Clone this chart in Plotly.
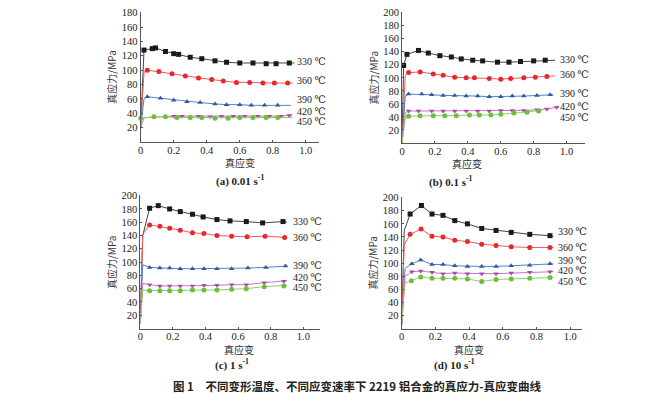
import plotly.graph_objects as go

# ---------------- data ----------------
temps = ["330 ℃", "360 ℃", "390 ℃", "420 ℃", "450 ℃"]
colors = ["#1a1a1a", "#e8262b", "#2a5caa", "#a94ca9", "#6cbf3a"]
line_colors = ["#444444", "#ee5a5a", "#5a7fc4", "#c478c4", "#8fcf6a"]
symbols = ["square", "circle", "triangle-up", "triangle-down", "circle"]

# (a) 0.01 s-1
a_start = [20, 20, 20, 20, 20]
a_knee = [[0.015, 125], [0.02, 97], [0.02, 60], [0.02, 34], [0.005, 33]]
a_x = [
    [0.02, 0.07, 0.09, 0.15, 0.20, 0.23, 0.30, 0.37, 0.45, 0.52, 0.60, 0.68, 0.76, 0.82, 0.90],
    [0.04, 0.11, 0.19, 0.27, 0.35, 0.43, 0.50, 0.58, 0.66, 0.74, 0.81, 0.89],
    [0.04, 0.12, 0.20, 0.28, 0.36, 0.45, 0.52, 0.60, 0.67, 0.75, 0.83],
    [0.20, 0.25, 0.35, 0.42, 0.49, 0.56, 0.63, 0.71, 0.78, 0.85, 0.90],
    [0.00, 0.08, 0.15, 0.22, 0.30, 0.37, 0.45, 0.53, 0.60, 0.68, 0.76, 0.83],
]
a_y = [
    [128, 130, 131, 126, 123, 122, 118, 116, 113, 111, 110, 110, 109, 109, 110],
    [100, 98, 95, 92, 89, 87, 85, 83, 83, 82, 82, 82],
    [63, 61, 58, 56, 55, 53, 52, 52, 51, 51, 51],
    [36, 36, 36, 35, 36, 36, 36, 36, 36, 36, 37],
    [33, 35, 35, 34, 34, 34, 33, 33, 34, 34, 34, 34],
]
a_end = [[0.93, 110], [0.92, 82], [0.91, 51], [0.92, 38], [0.92, 34]]
a_label_y = [112.5, 85, 59.5, 42.8, 28]

# (b) 0.1 s-1
b_start = [0, 0, 0, 0, 0]
b_knee = [[0.008, 110], [0.02, 104], [0.02, 72], [0.02, 46], [0.02, 39]]
b_x = [
    [0.01, 0.03, 0.10, 0.16, 0.23, 0.30, 0.36, 0.43, 0.49, 0.58, 0.65, 0.72, 0.80, 0.87],
    [0.04, 0.11, 0.19, 0.25, 0.32, 0.39, 0.44, 0.53, 0.60, 0.66, 0.74, 0.81, 0.88],
    [0.04, 0.12, 0.18, 0.25, 0.32, 0.39, 0.46, 0.53, 0.60, 0.67, 0.74, 0.82, 0.90],
    [0.04, 0.10, 0.18, 0.25, 0.32, 0.39, 0.46, 0.53, 0.60, 0.67, 0.74, 0.82, 0.88, 0.94],
    [0.04, 0.11, 0.19, 0.26, 0.33, 0.41, 0.47, 0.54, 0.60, 0.68, 0.76, 0.83],
]
b_y = [
    [119, 136, 142, 138, 134, 132, 129, 127, 126, 124, 124, 125, 126, 127],
    [108, 109, 106, 104, 101, 100, 100, 99, 98, 99, 100, 101, 102],
    [75, 75, 74, 73, 73, 72, 72, 71, 71, 72, 72, 73, 74],
    [49, 49, 49, 49, 49, 49, 49, 49, 50, 50, 50, 51, 52, 55],
    [41, 42, 42, 42, 42, 43, 43, 43, 44, 46, 47, 49],
]
b_end = [[0.93, 127], [0.93, 103], [0.92, 74], [0.95, 56], [0.85, 50]]
b_label_y = [128.5, 104.6, 76.3, 56.3, 39.3]

# (c) 1 s-1
c_start = [18, 18, 8, 8, 7]
c_knee = [[0.015, 140], [0.015, 142], [0.015, 96], [0.015, 68], [0.015, 58]]
c_x = [
    [0.057, 0.11, 0.18, 0.245, 0.32, 0.385, 0.47, 0.55, 0.65, 0.75, 0.875],
    [0.057, 0.12, 0.18, 0.245, 0.32, 0.39, 0.47, 0.56, 0.655, 0.765, 0.885],
    [0.057, 0.12, 0.18, 0.245, 0.32, 0.39, 0.47, 0.56, 0.66, 0.77, 0.89],
    [0.057, 0.12, 0.18, 0.245, 0.32, 0.39, 0.47, 0.56, 0.65, 0.76, 0.88],
    [0.057, 0.12, 0.18, 0.245, 0.32, 0.39, 0.47, 0.56, 0.65, 0.76, 0.88],
]
c_y = [
    [181, 185, 180, 176, 172, 168, 164, 162, 161, 159, 161],
    [156, 154, 151, 148, 144, 143, 140, 139, 138, 139, 137],
    [92, 91, 91, 90, 90, 90, 90, 90, 91, 92, 94],
    [66, 64, 64, 64, 64, 65, 65, 66, 66, 69, 71],
    [57, 57, 57, 57, 58, 58, 58, 59, 60, 63, 64],
]
c_end = [[0.90, 160], [0.90, 137], [0.90, 94], [0.90, 72], [0.90, 65]]
c_label_y = [160.7, 136.9, 95.2, 76.5, 61]

# (d) 10 s-1
d_start = [6, 6, 6, 6, 10]
d_knee = [[0.015, 150], [0.015, 128], [0.02, 92], [0.02, 80], [0.02, 70]]
d_x = [
    [0.05, 0.117, 0.18, 0.245, 0.315, 0.39, 0.475, 0.56, 0.65, 0.76, 0.88],
    [0.05, 0.115, 0.18, 0.245, 0.315, 0.39, 0.475, 0.56, 0.65, 0.76, 0.88],
    [0.06, 0.113, 0.18, 0.245, 0.315, 0.39, 0.475, 0.56, 0.65, 0.76, 0.88],
    [0.06, 0.113, 0.18, 0.245, 0.315, 0.39, 0.475, 0.56, 0.65, 0.76, 0.88],
    [0.057, 0.113, 0.18, 0.245, 0.315, 0.39, 0.475, 0.56, 0.65, 0.76, 0.88],
]
d_y = [
    [175, 188, 175, 173, 165, 160, 153, 150, 147, 144, 142],
    [144, 152, 141, 140, 135, 133, 129, 127, 125, 124, 124],
    [99, 105, 98, 98, 96, 95, 95, 95, 96, 97, 99],
    [87, 88, 86, 84, 85, 84, 84, 84, 85, 86, 87],
    [73, 79, 77, 77, 77, 76, 72, 75, 76, 77, 78],
]
d_end = [[0.90, 141], [0.90, 124], [0.90, 99], [0.90, 87], [0.90, 78]]
d_label_y = [148.3, 123.8, 103.6, 88.2, 71.3]

panel_titles = ["(a) 0.01 s<sup>-1</sup>", "(b) 0.1 s<sup>-1</sup>",
                "(c) 1 s<sup>-1</sup>", "(d) 10 s<sup>-1</sup>"]
x_ticks = [0, 0.2, 0.4, 0.6, 0.8, 1.0]
x_ticktext = ["0", "0.2", "0.4", "0.6", "0.8", "1.0"]
caption = "图 1　不同变形温度、不同应变速率下 2219 铝合金的真应力-真应变曲线"
x_title = "真应变"
y_title = "真应力/MPa"

# ---------------- figure ----------------
W, H = 657, 393
SERIF = "Times New Roman, Liberation Serif, DejaVu Serif, serif"
CJK = "Noto Sans CJK SC"

panels = [
    dict(start=a_start, knee=a_knee, xs=a_x, ys=a_y, end=a_end, ly=a_label_y, lx=0.935,
         xd=[132.7, 311], yd=[134, 4], xr=[0, 1.08], yr=[0, 181],
         yt=[20, 40, 60, 80, 100, 120, 140, 160, 180], xt_y=154, tt_y=172),
    dict(start=b_start, knee=b_knee, xs=b_x, ys=b_y, end=b_end, ly=b_label_y, lx=0.945,
         xd=[394, 576.7], yd=[135, 4], xr=[0, 1.11], yr=[0, 201],
         yt=[20, 40, 60, 80, 100, 120, 140, 160, 180, 200], xt_y=155, tt_y=173),
    dict(start=c_start, knee=c_knee, xs=c_x, ys=c_y, end=c_end, ly=c_label_y, lx=0.925,
         xd=[132.3, 311.7], yd=[320.5, 187], xr=[0, 1.1], yr=[0, 201],
         yt=[20, 40, 60, 80, 100, 120, 140, 160, 180, 200], xt_y=341, tt_y=356),
    dict(start=d_start, knee=d_knee, xs=d_x, ys=d_y, end=d_end, ly=d_label_y, lx=0.915,
         xd=[393.7, 574], yd=[320.7, 189], xr=[0, 1.07], yr=[0, 201],
         yt=[20, 40, 60, 80, 100, 120, 140, 160, 180, 200], xt_y=341, tt_y=356),
]

fig = go.Figure()
annotations = []
for i, p in enumerate(panels):
    n = "" if i == 0 else str(i + 1)
    xa, ya = "x" + n, "y" + n
    for k in range(5):
        lx = [0, p["knee"][k][0]] + p["xs"][k] + [p["end"][k][0]]
        ly = [p["start"][k], p["knee"][k][1]] + p["ys"][k] + [p["end"][k][1]]
        fig.add_trace(go.Scatter(x=lx, y=ly, mode="lines", xaxis=xa, yaxis=ya,
                                 line=dict(color=line_colors[k], width=1),
                                 showlegend=False, hoverinfo="skip", cliponaxis=False))
        fig.add_trace(go.Scatter(x=p["xs"][k], y=p["ys"][k], mode="markers",
                                 xaxis=xa, yaxis=ya, cliponaxis=False,
                                 marker=dict(color=colors[k], symbol=symbols[k], size=5,
                                             line=dict(width=0)),
                                 showlegend=False))
        annotations.append(dict(x=p["lx"], y=p["ly"][k], xref=xa, yref=ya,
                                text=temps[k], showarrow=False, xanchor="left",
                                yanchor="middle",
                                font=dict(family=SERIF, size=10, color="#222")))
    xdom = [p["xd"][0] / W, p["xd"][1] / W]
    ydom = [1 - p["yd"][0] / H, 1 - p["yd"][1] / H]
    axis_common = dict(showgrid=False, zeroline=False, showline=True,
                       linecolor="#555", linewidth=1, ticks="inside", ticklen=2,
                       tickcolor="#555", automargin=False, ticklabeloverflow="allow",
                       tickfont=dict(family=SERIF, size=10.5, color="#222"))
    fig.layout["xaxis" + n] = dict(domain=xdom, range=p["xr"], anchor=ya,
                                   tickvals=x_ticks, ticktext=x_ticktext,
                                   ticklabelstandoff=-2, **axis_common)
    fig.layout["yaxis" + n] = dict(domain=ydom, range=p["yr"], anchor=xa,
                                   tickvals=p["yt"], ticklabelstandoff=0, **axis_common)
    cx = (p["xd"][0] + (p["xd"][0] + (p["xd"][1] - p["xd"][0]) / p["xr"][1])) / 2
    annotations.append(dict(x=cx / W, y=1 - p["xt_y"] / H, xref="paper", yref="paper",
                            text=x_title, showarrow=False, yanchor="middle",
                            font=dict(family=CJK, size=10, color="#333")))
    annotations.append(dict(x=(cx - 9) / W, y=1 - p["tt_y"] / H, xref="paper", yref="paper",
                            text="<b>" + panel_titles[i] + "</b>", showarrow=False,
                            yanchor="middle",
                            font=dict(family=SERIF, size=11, color="#222")))
    annotations.append(dict(x=(p["xd"][0] - 29) / W,
                            y=1 - (p["yd"][0] + p["yd"][1]) / 2 / H,
                            xref="paper", yref="paper", text=y_title, textangle=-90,
                            showarrow=False, xanchor="center", yanchor="middle",
                            font=dict(family=CJK, size=10, color="#333")))

annotations.append(dict(x=349 / W, y=1 - 378 / H, xref="paper", yref="paper",
                        text="<b>" + caption + "</b>", showarrow=False, yanchor="middle",
                        font=dict(family=CJK, size=11.5, color="#222")))

fig.update_layout(width=W, height=H, margin=dict(l=0, r=0, t=0, b=0, autoexpand=False),
                  paper_bgcolor="white", plot_bgcolor="white",
                  annotations=annotations)
fig.write_html("out.html")
